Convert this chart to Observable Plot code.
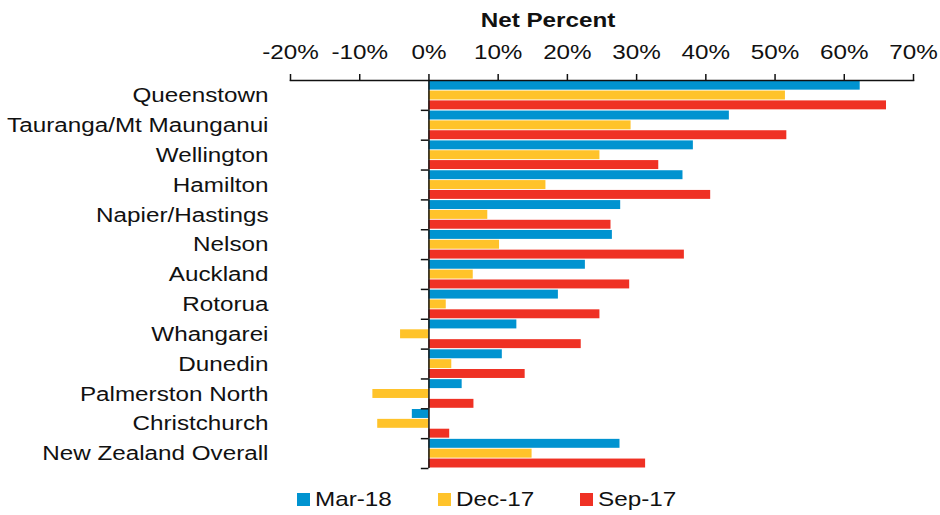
<!DOCTYPE html>
<html>
<head>
<meta charset="utf-8">
<script src="https://cdn.jsdelivr.net/npm/d3@7"></script>
<script src="https://cdn.jsdelivr.net/npm/@observablehq/plot@0.6"></script>
<style>
  html, body { margin: 0; padding: 0; background: #fff; }
  body { width: 940px; font-family: "Liberation Sans", Arial, sans-serif; }
  #chart svg { display: block; }
  #legend { position: relative; height: 35px; font-size: 21px; color: #111; }
  .item { display: flex; align-items: center; position: absolute; top: 7px; }
  .sw { width: 13px; height: 13px; margin-right: 5px; }
  .lt { display: inline-block; transform: scaleX(1.155); transform-origin: left center; }
</style>
</head>
<body>
<div id="chart"></div>
<div id="legend"></div>
<script>
const cities = ["Queenstown","Tauranga/Mt Maunganui","Wellington","Hamilton","Napier/Hastings","Nelson","Auckland","Rotorua","Whangarei","Dunedin","Palmerston North","Christchurch","New Zealand Overall"];
const series = ["Mar-18","Dec-17","Sep-17"];
const mar18 = [62.3, 43.4, 38.2, 36.7, 27.7, 26.5, 22.6, 18.7, 12.7, 10.6, 4.8, -2.4, 27.6];
const dec17 = [51.5, 29.2, 24.7, 16.9, 8.5, 10.2, 6.4, 2.5, -4.1, 3.3, -8.1, -7.4, 14.9];
const sep17 = [66.1, 51.7, 33.2, 40.7, 26.3, 36.9, 29.0, 24.7, 22.0, 13.9, 6.5, 3.0, 31.3];
const xTicks = [-20,-10,0,10,20,30,40,50,60,70];
const colors = ["#0093d0","#ffc32a","#ef3124"];

const rows = (vals) => cities.map((c, i) => ({city: c, value: vals[i]}));
const dMar = rows(mar18), dDec = rows(dec17), dSep = rows(sep17);

const H = 480, MT = 80, MB = 12;
const bandH = (H - MT - MB) / cities.length;

const chart = Plot.plot({
  width: 940,
  height: H,
  marginTop: MT,
  marginBottom: MB,
  marginLeft: 290,
  marginRight: 27,
  style: {fontFamily: "Liberation Sans, Arial, sans-serif", fontSize: "21px", color: "#111", background: "#fff"},
  x: {domain: [-20, 70]},
  y: {domain: cities, padding: 0, round: false},
  marks: [
    Plot.barX(dMar, {y: "city", x: "value", fill: colors[0], insetTop: 0.7, insetBottom: 2*bandH/3 + 0.3}),
    Plot.barX(dDec, {y: "city", x: "value", fill: colors[1], insetTop: bandH/3 + 0.6, insetBottom: bandH/3 + 0.4}),
    Plot.barX(dSep, {y: "city", x: "value", fill: colors[2], insetTop: 2*bandH/3 + 0.5, insetBottom: 0.5}),
    Plot.axisX({anchor: "top", ticks: xTicks, tickFormat: d => d + "%", tickSize: 7, tickPadding: 15, label: null, stroke: "#111", strokeWidth: 1.5, fill: "#111", fontSize: 21}),
    Plot.axisY({anchor: "left", tickSize: 0, tickPadding: 22, label: null, fill: "#111", fontSize: 21}),
    Plot.frame({anchor: "top", stroke: "#111", strokeWidth: 1.5}),
    Plot.ruleX([0], {stroke: "#111", strokeWidth: 1.5}),
    Plot.ruleY(cities, {y: d => d, x1: -1.1, x2: 0, dy: bandH/2, stroke: "#111", strokeWidth: 1.5}),
    Plot.text(["Net Percent"], {frameAnchor: "top", lineAnchor: "middle", dy: -60, dx: -54, fontWeight: "bold", fontSize: 21, fill: "#111"})
  ]
});
document.getElementById("chart").appendChild(chart);

// horizontal stretch of text glyphs to match the reference typeface width
const SX = 1.155;
chart.querySelectorAll("text").forEach(t => {
  const tr = t.getAttribute("transform");
  if (tr) t.setAttribute("transform", tr + ` scale(${SX},1)`);
  else {
    const x = +(t.getAttribute("x") || 0);
    t.setAttribute("transform", `translate(${x},0) scale(${SX},1) translate(${-x},0)`);
  }
});

const legend = document.getElementById("legend");
const lx = [297, 438, 580];
series.forEach((s, i) => {
  const it = document.createElement("div");
  it.className = "item";
  it.style.left = lx[i] + "px";
  it.innerHTML = `<span class="sw" style="background:${colors[i]}"></span><span class="lt">${s}</span>`;
  legend.appendChild(it);
});
</script>
</body>
</html>
